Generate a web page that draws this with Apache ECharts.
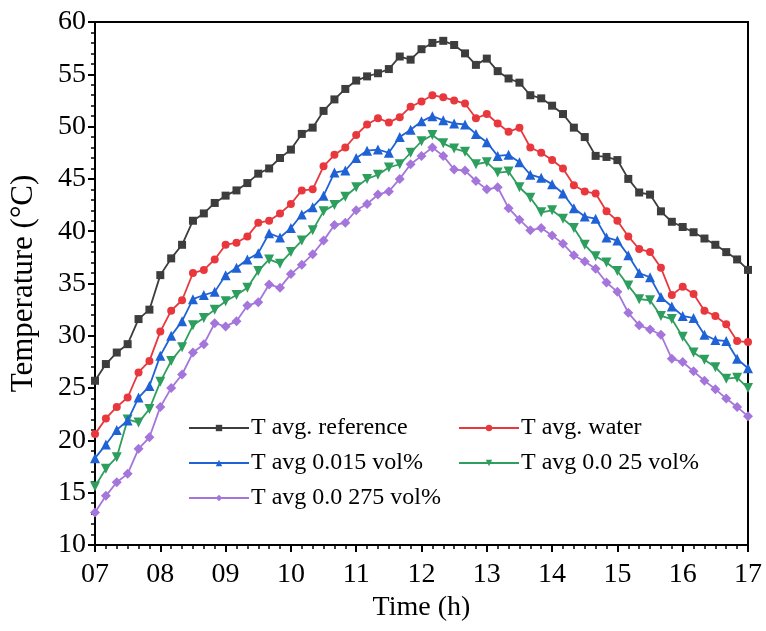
<!DOCTYPE html>
<html>
<head>
<meta charset="utf-8">
<script src="https://cdn.jsdelivr.net/npm/echarts@6/dist/echarts.min.js"></script>
<style>
html,body{margin:0;padding:0;background:#fff;}
#chart{width:766px;height:631px;}
</style>
</head>
<body>
<div id="chart"></div>
<script>
const times = ["07:00","07:10","07:20","07:30","07:40","07:50",
"08:00","08:10","08:20","08:30","08:40","08:50",
"09:00","09:10","09:20","09:30","09:40","09:50",
"10:00","10:10","10:20","10:30","10:40","10:50",
"11:00","11:10","11:20","11:30","11:40","11:50",
"12:00","12:10","12:20","12:30","12:40","12:50",
"13:00","13:10","13:20","13:30","13:40","13:50",
"14:00","14:10","14:20","14:30","14:40","14:50",
"15:00","15:10","15:20","15:30","15:40","15:50",
"16:00","16:10","16:20","16:30","16:40","16:50",
"17:00"];

const tRef = [25.7,27.3,28.4,29.2,31.6,32.5,
35.8,37.4,38.7,41.0,41.7,42.7,
43.4,43.9,44.6,45.5,46.0,47.0,
47.8,49.3,49.9,51.5,52.6,53.6,
54.4,54.8,55.1,55.5,56.7,56.4,
57.4,58.0,58.2,57.8,57.0,55.9,
56.5,55.3,54.6,54.2,53.0,52.7,
52.0,51.2,49.9,49.0,47.2,47.1,
46.8,45.0,43.7,43.5,41.9,40.9,
40.4,39.9,39.3,38.7,38.0,37.3,
36.3];

const tWater = [20.6,22.1,23.2,24.1,26.5,27.6,
30.4,32.4,33.4,36.0,36.3,37.3,
38.7,38.9,39.5,40.8,41.0,41.7,
42.6,43.9,44.0,46.2,47.3,48.0,
49.2,50.2,50.8,50.4,50.9,51.9,
52.4,53.0,52.8,52.5,52.2,50.8,
51.2,50.3,49.5,49.9,48.0,47.5,
46.8,46.0,44.4,43.8,43.6,41.9,
41.0,39.5,38.3,38.0,36.5,33.9,
34.7,34.0,32.4,31.9,31.1,29.5,
29.4];

const t015 = [18.3,19.6,21.0,21.9,24.1,25.2,
28.1,30.0,31.4,33.5,33.9,34.2,
35.8,36.5,37.3,37.9,39.8,39.4,
40.3,41.6,42.3,43.4,45.6,45.8,
47.0,47.7,47.8,47.5,49.0,49.7,
50.5,51.0,50.6,50.3,50.2,49.3,
48.5,47.2,47.3,46.6,45.4,45.1,
44.5,43.6,42.2,41.4,41.2,39.4,
39.1,37.7,36.0,35.6,33.7,32.8,
31.9,31.7,30.1,29.6,29.5,27.8,
26.9];

const t025 = [15.6,17.3,18.4,22.0,21.7,23.0,
25.6,27.6,28.9,31.0,31.7,32.5,
33.3,33.9,34.6,36.2,37.3,36.9,
38.0,39.1,40.1,41.9,42.5,43.3,
44.2,45.0,45.4,46.1,46.4,47.5,
48.6,49.2,48.4,47.9,47.6,46.4,
46.6,45.6,45.7,44.2,43.2,41.8,
42.0,41.2,40.3,38.7,37.6,37.0,
36.2,34.8,33.5,33.4,31.9,31.6,
29.9,28.4,27.7,27.0,25.9,26.0,
25.0];

const t0275 = [13.1,14.7,16.0,16.8,19.2,20.3,
23.2,25.0,26.3,28.4,29.2,31.2,
30.9,31.4,32.9,33.2,34.9,34.6,
35.9,36.8,37.8,39.1,40.6,40.8,
42.0,42.6,43.5,43.8,45.0,46.4,
47.2,48.0,47.2,45.9,45.8,44.8,
44.0,44.2,42.2,41.1,40.1,40.3,
39.6,38.8,37.7,37.1,36.4,35.1,
34.2,32.2,31.0,30.6,30.1,27.8,
27.5,26.6,25.7,24.9,24.0,23.2,
22.3];

const seriesNames = ["T avg. reference","T avg. water","T avg 0.015 vol%","T avg 0.0 25 vol%","T avg 0.0 275 vol%"];
const xTickLabels = ["07","08","09","10","11","12","13","14","15","16","17"];

function toHour(s){ const p = s.split(":"); return Number(p[0]) + Number(p[1])/60; }
function pairs(arr){ return arr.map((v,i)=>[toHour(times[i]), v]); }

const FONT = "'Liberation Serif','Times New Roman',serif";
const chart = echarts.init(document.getElementById('chart'), null, {renderer:'canvas'});

const styles = [
  {data:tRef,  color:'#3d3d3d', symbol:'rect', size:8, rotate:0},
  {data:tWater,color:'#e8383d', symbol:'circle', size:8, rotate:0},
  {data:t015,  color:'#1f62d6', symbol:'triangle', size:10, rotate:0},
  {data:t025,  color:'#2e9e5e', symbol:'triangle', size:10, rotate:180},
  {data:t0275, color:'#a476dc', symbol:'diamond', size:10, rotate:0}
];

const series = styles.map((s,i)=>({
  name: seriesNames[i],
  type:'line',
  data: pairs(s.data),
  symbol: s.symbol,
  symbolSize: s.size,
  symbolRotate: s.rotate,
  showAllSymbol: true,
  lineStyle:{color:s.color, width:1.8},
  itemStyle:{color:s.color},
  animation:false,
  z: 10 - i
}));

const legendCommon = {
  orient:'vertical',
  itemWidth:60,
  itemHeight:8,
  itemGap:11,
  textStyle:{fontFamily:FONT, fontSize:24, color:'#000', lineHeight:24, padding:[0,0,0,-3]},
  backgroundColor:'transparent',
  padding:0
};

chart.setOption({
  backgroundColor:'#fff',
  animation:false,
  grid:{left:95, right:18, top:22, bottom:86, show:true, borderColor:'#000', borderWidth:2, backgroundColor:'transparent'},
  legend:[
    Object.assign({}, legendCommon, {left:188, top:416, data:[seriesNames[0],seriesNames[2],seriesNames[4]]}),
    Object.assign({}, legendCommon, {left:458, top:416, data:[seriesNames[1],seriesNames[3]]})
  ],
  xAxis:{
    type:'value', min:7, max:17, interval:1,
    name:'Time (h)', nameLocation:'middle', nameGap:48,
    nameTextStyle:{fontFamily:FONT, fontSize:28, color:'#000'},
    axisLine:{show:true, lineStyle:{color:'#000', width:2}},
    axisTick:{show:true, length:7, lineStyle:{color:'#000', width:2}},
    minorTick:{show:true, splitNumber:6, length:4, lineStyle:{color:'#000', width:1.5}},
    splitLine:{show:false},
    axisLabel:{fontFamily:FONT, fontSize:28, color:'#000', margin:16,
      formatter:(v)=>{ const idx = Math.round(v) - 7; return xTickLabels[idx] !== undefined ? xTickLabels[idx] : ''; }}
  },
  yAxis:{
    type:'value', min:10, max:60, interval:5,
    name:'Temperature (°C)', nameLocation:'middle', nameGap:56,
    nameTextStyle:{fontFamily:FONT, fontSize:31, color:'#000'},
    axisLine:{show:true, lineStyle:{color:'#000', width:2}},
    axisTick:{show:true, length:7, lineStyle:{color:'#000', width:2}},
    minorTick:{show:true, splitNumber:5, length:4, lineStyle:{color:'#000', width:1.5}},
    splitLine:{show:false},
    axisLabel:{fontFamily:FONT, fontSize:28, color:'#000', margin:9}
  },
  series: series
});
</script>
</body>
</html>
